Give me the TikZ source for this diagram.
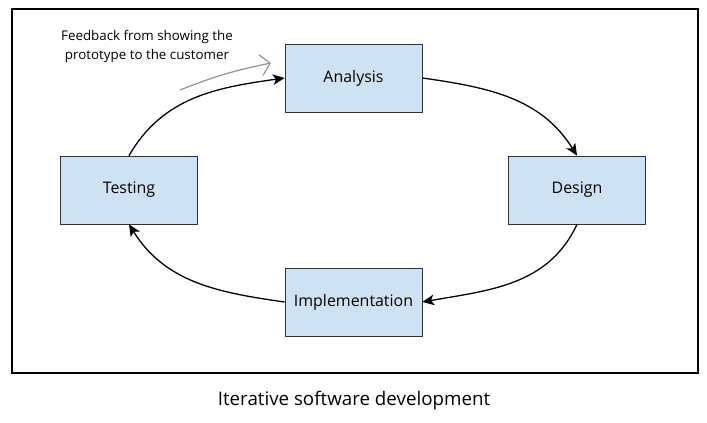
\documentclass[tikz,border=0pt]{standalone}
\usepackage{fontspec}
\setmainfont{Open Sans}
\usetikzlibrary{arrows.meta}
\definecolor{boxfill}{HTML}{CFE2F3}
\definecolor{boxline}{HTML}{333333}
\definecolor{fbgray}{HTML}{999999}
\begin{document}
\begin{tikzpicture}[x=0.03cm,y=-0.03cm,
  stage/.style={draw=boxline,fill=boxfill,line width=0.6pt,minimum width=137*0.03cm,minimum height=68*0.03cm,inner sep=0pt,font=\fontsize{13.6}{16}\selectfont},
  flow/.style={line width=1.1pt,-{Stealth[length=10pt,width=9pt,inset=2.5pt]}},
  fb/.style={draw=fbgray,line width=1.1pt,-{Straight Barb[length=8pt,width=18pt]}}]
\useasboundingbox (0,0) rectangle (707,422);
\draw[line width=0.9pt] (12,9) rectangle (698,373);
\node[stage] (analysis) at (353.5,78) {Analysis};
\node[stage] (testing) at (129,190) {Testing};
\node[stage] (design) at (577,190) {Design};
\node[stage] (impl) at (353.5,302) {Implementation};
\draw[flow] (analysis.east) to[out=-8,in=122] (design.north);
\draw[flow] (design.south) to[out=-115,in=10] (impl.east);
\draw[flow] (impl.west) to[out=172,in=-58] (testing.south);
\draw[flow] (testing.north) to[out=60,in=188] (analysis.west);
\node[align=center,font=\fontsize{11.4}{16}\selectfont] (fbtext) at (147,46.5) {Feedback from showing the\\prototype to the customer};
\coordinate (fbstart) at (180,90);
\coordinate (fbend) at (271,63);
\draw[fb] (fbstart) to[bend left=5] (fbend);
\node[font=\fontsize{16}{19}\selectfont] (caption) at (354,401) {Iterative software development};
\end{tikzpicture}
\end{document}
